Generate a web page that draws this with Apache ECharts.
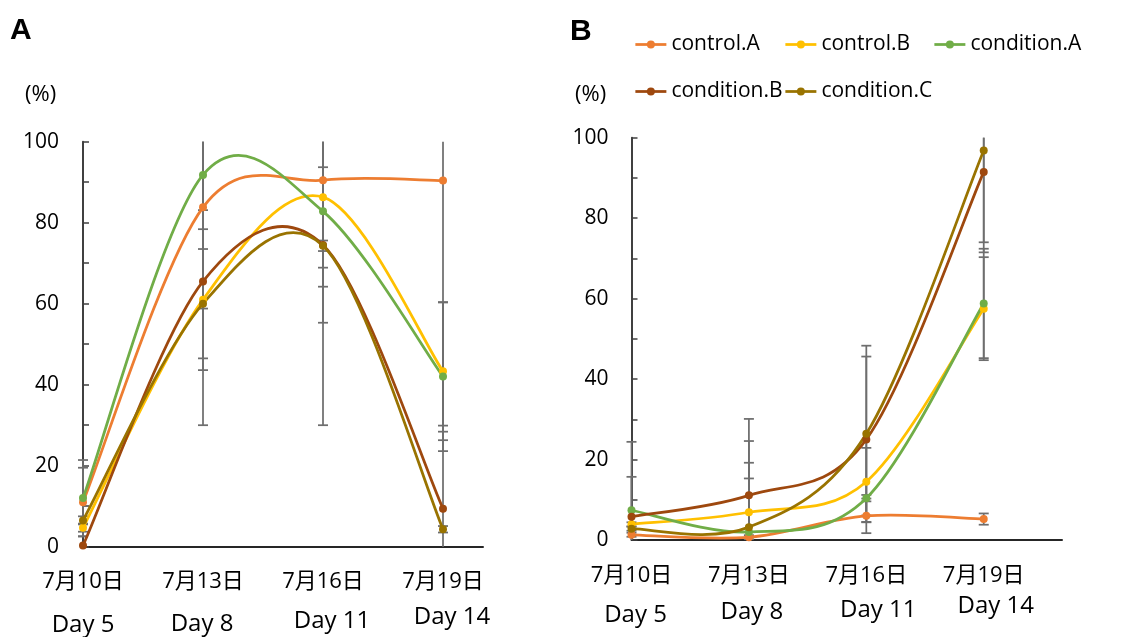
<!DOCTYPE html>
<html>
<head>
<meta charset="utf-8">
<script src="https://cdn.jsdelivr.net/npm/echarts@6/dist/echarts.min.js"></script>
<style>
html,body{margin:0;padding:0;background:#fff;}
#c{width:1134px;height:637px;}
</style>
</head>
<body>
<div id="c"></div>
<script>
// ---------- data ----------
const seriesNames = ['control.A', 'control.B', 'condition.A', 'condition.B', 'condition.C'];
const dateLabels = ['7月10日', '7月13日', '7月16日', '7月19日'];
const dayLabels = ['Day 5', 'Day 8', 'Day 11', 'Day 14'];
const dayX = [0, 3, 6, 9]; // days after 7月10日
const yTicks = [0, 20, 40, 60, 80, 100];

// Panel A values (%)
const a_controlA = [11.0, 83.8, 90.5, 90.4];
const a_controlB = [4.7, 61.0, 86.3, 43.3];
const a_conditionA = [12.0, 91.8, 82.8, 42.0];
const a_conditionB = [0.3, 65.5, 74.5, 9.4];
const a_conditionC = [6.5, 60.0, 74.3, 4.3];
// Panel A error (±)
const a_err_controlA = [8.5, 25.0, 21.6, 60.5];
const a_err_controlB = [1.0, 17.4, 22.1, 17.0];
const a_err_conditionA = [9.4, 8.7, 52.8, 18.4];
const a_err_conditionB = [0.0, 35.5, 19.2, 19.0];
const a_err_conditionC = [1.0, 13.5, 1.3, 0.8];

// Panel B values (%)
const b_controlA = [1.3, 0.7, 6.0, 5.2];
const b_controlB = [3.9, 6.9, 14.5, 57.5];
const b_conditionA = [7.4, 2.0, 10.4, 58.8];
const b_conditionB = [5.8, 11.1, 25.0, 91.5];
const b_conditionC = [2.8, 3.2, 26.4, 96.8];
// Panel B error (±)
const b_err_controlA = [0.5, 0.5, 4.3, 1.4];
const b_err_controlB = [0.5, 17.7, 8.4, 12.8];
const b_err_conditionA = [17.0, 13.3, 0.8, 13.6];
const b_err_conditionB = [9.9, 19.0, 20.6, 17.5];
const b_err_conditionC = [0.5, 16.0, 21.9, 25.3];

// ---------- style ----------
const colors = ['#ED7D31', '#FFC000', '#70AD47', '#9E480E', '#997300'];
const FONT = "'Open Sans','Noto Sans CJK JP',sans-serif";
const axisColor = '#404040';
const errColor = '#6e6e6e';
const LW = 2.75;

const panelA = [a_controlA, a_controlB, a_conditionA, a_conditionB, a_conditionC];
const panelAErr = [a_err_controlA, a_err_controlB, a_err_conditionA, a_err_conditionB, a_err_conditionC];
const panelB = [b_controlA, b_controlB, b_conditionA, b_conditionB, b_conditionC];
const panelBErr = [b_err_controlA, b_err_controlB, b_err_conditionA, b_err_conditionB, b_err_conditionC];

// markers (and legend entry); the connecting line is drawn by curveSeries
function markerSeries(name, vals, color, gi) {
  return {
    type: 'line', name: name, xAxisIndex: gi, yAxisIndex: gi,
    data: vals.map((v, i) => [dayX[i], v]),
    symbol: 'circle', symbolSize: 8, showSymbol: true,
    lineStyle: { width: LW, color: color, opacity: 0 }, itemStyle: { color: color },
    emphasis: { disabled: true }, z: 4
  };
}

// Excel-like smoothed line: cubic Bezier (Catmull-Rom, 1/6) through the data points in pixel space
function curveSeries(vals, color, gi) {
  const pts = vals.map((v, i) => [dayX[i], v]);
  const n = pts.length;
  return {
    type: 'custom', xAxisIndex: gi, yAxisIndex: gi, silent: true, z: 3,
    data: pts,
    encode: { x: 0, y: 1 },
    renderItem: function (params, api) {
      const i = params.dataIndex;
      if (i >= n - 1) return { type: 'group', children: [] };
      const P0 = api.coord(pts[Math.max(i - 1, 0)]);
      const P1 = api.coord(pts[i]);
      const P2 = api.coord(pts[i + 1]);
      const P3 = api.coord(pts[Math.min(i + 2, n - 1)]);
      return {
        type: 'bezierCurve',
        shape: {
          x1: P1[0], y1: P1[1], x2: P2[0], y2: P2[1],
          cpx1: P1[0] + (P2[0] - P0[0]) / 6, cpy1: P1[1] + (P2[1] - P0[1]) / 6,
          cpx2: P2[0] - (P3[0] - P1[0]) / 6, cpy2: P2[1] - (P3[1] - P1[1]) / 6
        },
        style: { stroke: color, lineWidth: LW, fill: null, lineCap: 'round' }
      };
    }
  };
}

function errSeries(vals, errs, gi) {
  return {
    type: 'custom', xAxisIndex: gi, yAxisIndex: gi, silent: true, z: 2,
    data: vals.map((v, i) => [dayX[i], v, errs[i]]),
    encode: { x: 0, y: 1 },
    renderItem: function (params, api) {
      const x = api.value(0), v = api.value(1), e = api.value(2);
      if (!e) return { type: 'group', children: [] };
      const hiV = v + e, loV = v - e;
      const hi = Math.min(100, hiV), lo = Math.max(0, loV);
      const p1 = api.coord([x, hi]), p2 = api.coord([x, lo]);
      const st = { stroke: errColor, lineWidth: 1.75 };
      const ch = [{ type: 'line', shape: { x1: p1[0], y1: p1[1], x2: p2[0], y2: p2[1] }, style: st }];
      const hw = 5;
      if (hiV <= 100) ch.push({ type: 'line', shape: { x1: p1[0] - hw, y1: p1[1], x2: p1[0] + hw, y2: p1[1] }, style: st });
      if (loV >= 0) ch.push({ type: 'line', shape: { x1: p2[0] - hw, y1: p2[1], x2: p2[0] + hw, y2: p2[1] }, style: st });
      return { type: 'group', children: ch };
    }
  };
}

function xAxisCfg(gi, max, rich) {
  return {
    type: 'value', gridIndex: gi, min: 0, max: max, interval: 3,
    axisLine: { show: true, lineStyle: { color: '#262626', width: 2 } },
    axisTick: { show: false }, splitLine: { show: false },
    axisLabel: {
      margin: 14, showMaxLabel: false, color: '#000', fontFamily: FONT, fontSize: 22,
      formatter: function (val) {
        const i = dayX.indexOf(val);
        if (i < 0) return '';
        return '{d|' + dateLabels[i] + '}\n{e' + i + '|' + dayLabels[i] + '}';
      },
      rich: rich
    }
  };
}

function yAxisCfg(gi, margin) {
  return {
    type: 'value', gridIndex: gi, min: yTicks[0], max: yTicks[yTicks.length - 1], interval: 20,
    axisLine: { show: true, lineStyle: { color: axisColor, width: 2 } },
    axisTick: { show: true, inside: true, length: 6, lineStyle: { color: axisColor, width: 1.5 } },
    minorTick: { show: true, splitNumber: 2, length: 6, lineStyle: { color: axisColor, width: 1.5 } },
    splitLine: { show: false },
    axisLabel: { margin: margin, color: '#000', fontFamily: FONT, fontSize: 21 }
  };
}

function mk(fs, lh, pad) {
  return { fontFamily: FONT, fontSize: fs, color: '#000', lineHeight: lh, padding: pad };
}
const richA = {
  d: mk(22, 42, [0, 0, 0, 0]),
  e0: mk(24, 44, [0, 0, 0, 0]),
  e1: mk(24, 42, [0, 2, 0, 0]),
  e2: mk(24, 37, [0, 0, 0, 18]),
  e3: mk(24, 29, [0, 0, 0, 18])
};
const richB = {
  d: mk(22, 43.4, [0, 0, 0, 0]),
  e0: mk(24, 35, [0, 0, 0, 8]),
  e1: mk(24, 29, [0, 0, 0, 6]),
  e2: mk(24, 25, [0, 0, 0, 24]),
  e3: mk(24, 17, [0, 0, 0, 24])
};

const series = [];
for (let k = 0; k < 5; k++) series.push(errSeries(panelA[k], panelAErr[k], 0));
for (let k = 0; k < 5; k++) series.push(errSeries(panelB[k], panelBErr[k], 1));
for (let k = 0; k < 5; k++) series.push(curveSeries(panelA[k], colors[k], 0));
for (let k = 0; k < 5; k++) series.push(curveSeries(panelB[k], colors[k], 1));
for (let k = 0; k < 5; k++) series.push(markerSeries(seriesNames[k], panelA[k], colors[k], 0));
for (let k = 0; k < 5; k++) series.push(markerSeries(seriesNames[k], panelB[k], colors[k], 1));

const legLeft = [634, 784, 933, 634, 784];
const legTop = [34, 34, 34, 81, 81];
const legends = seriesNames.map((n, i) => ({
  data: [n], left: legLeft[i], top: legTop[i], padding: 0, orient: 'horizontal',
  itemWidth: 31, itemHeight: 10, itemGap: 0, selectedMode: false,
  lineStyle: { width: LW, opacity: 1 },
  textStyle: { fontFamily: FONT, fontSize: 21, color: '#000' }
}));

const chart = echarts.init(document.getElementById('c'), null, { renderer: 'canvas' });
chart.setOption({
  animation: false,
  backgroundColor: '#fff',
  title: [
    { text: 'A', left: 10, top: 16, padding: 0, textStyle: { fontFamily: "'Liberation Sans',Arial,sans-serif", fontSize: 30, fontWeight: 'bold', color: '#000' } },
    { text: 'B', left: 570, top: 17, padding: 0, textStyle: { fontFamily: "'Liberation Sans',Arial,sans-serif", fontSize: 30, fontWeight: 'bold', color: '#000' } },
    { text: '(%)', left: 25, top: 84, padding: 0, textStyle: { fontFamily: FONT, fontSize: 22, fontWeight: 'normal', color: '#000' } },
    { text: '(%)', left: 575, top: 84, padding: 0, textStyle: { fontFamily: FONT, fontSize: 22, fontWeight: 'normal', color: '#000' } }
  ],
  legend: legends,
  grid: [
    { left: 83, top: 141.7, width: 400, height: 405 },
    { left: 631.5, top: 137.7, width: 430.5, height: 402.3 }
  ],
  xAxis: [xAxisCfg(0, 10, richA), xAxisCfg(1, 11, richB)],
  yAxis: [yAxisCfg(0, 24), yAxisCfg(1, 23)],
  series: series
});
</script>
</body>
</html>
